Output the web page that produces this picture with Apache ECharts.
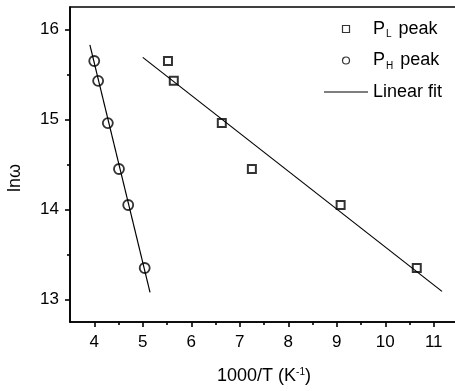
<!DOCTYPE html>
<html><head><meta charset="utf-8">
<script src="https://cdn.jsdelivr.net/npm/echarts@6/dist/echarts.min.js"></script>
<style>html,body{margin:0;padding:0;background:#fff}#c{width:455px;height:391px}</style>
</head><body><div id="c"></div>
<script>
// Data
const plX = [5.52, 5.64, 6.63, 7.25, 9.08, 10.65];
const plY = [15.65, 15.43, 14.96, 14.45, 14.05, 13.35];
const phX = [4.00, 4.08, 4.28, 4.51, 4.70, 5.04];
const phY = [15.65, 15.43, 14.96, 14.45, 14.05, 13.35];
const fitLX = [5.00, 11.17];
const fitLY = [15.69, 13.09];
const fitHX = [3.91, 5.15];
const fitHY = [15.83, 13.08];
const xMajorTicks = [4, 5, 6, 7, 8, 9, 10, 11];
const xMinorTicks = [4.5, 5.5, 6.5, 7.5, 8.5, 9.5, 10.5];
const yMajorTicks = [13, 14, 15, 16];
const yMinorTicks = [13.5, 14.5, 15.5];
const seriesNames = ['PL peak', 'PH peak', 'Linear fit'];

const zip = (a, b) => a.map((v, i) => [v, b[i]]);
const FONT = "'Liberation Sans', Arial, sans-serif";
const axisLineStyle = { color: '#000', width: 1.6 };

const chart = echarts.init(document.getElementById('c'), null, { renderer: 'canvas' });
chart.setOption({
  animation: false,
  backgroundColor: '#fff',
  grid: { left: 70, right: -3, top: 7, bottom: 69, show: true, borderColor: '#000', borderWidth: 1.6, containLabel: false, outerBoundsMode: 'none' },
  legend: {
    orient: 'vertical', left: 324, top: 19, padding: 0, itemWidth: 44, itemHeight: 7, itemGap: 11,
    data: [
      { name: seriesNames[0], icon: 'path://M0,0L10,0L10,10L0,10Z', itemStyle: { color: '#fff', borderColor: '#000', borderWidth: 1.2 } },
      { name: seriesNames[1], icon: 'circle', itemStyle: { color: '#fff', borderColor: '#000', borderWidth: 1.2 } },
      { name: seriesNames[2], icon: 'path://M0,0L40,0L40,1L0,1Z', itemStyle: { color: '#000', borderWidth: 0 } }
    ],
    formatter: function (name) {
      if (name === 'PL peak') return 'P{sub|L} peak';
      if (name === 'PH peak') return 'P{sub|H} peak';
      return name;
    },
    textStyle: { fontFamily: FONT, fontSize: 18, color: '#000', lineHeight: 20,
      rich: { sub: { fontFamily: FONT, fontSize: 10, color: '#000', padding: [11, 2, 0, 1] } } }
  },
  xAxis: [
    { type: 'value', min: 3.5, max: 11.5, position: 'bottom',
      name: '1000/T (K{sup|-1})', nameLocation: 'middle', nameGap: 45,
      nameTextStyle: { fontFamily: FONT, fontSize: 18, color: '#000',
        rich: { sup: { fontFamily: FONT, fontSize: 10, color: '#000', padding: [0, 0, 9, 0] } } },
      axisLine: { show: true, onZero: false, lineStyle: axisLineStyle },
      axisTick: { show: true, inside: false, length: 5, customValues: xMajorTicks, lineStyle: axisLineStyle },
      axisLabel: { customValues: xMajorTicks, fontFamily: FONT, fontSize: 17, color: '#000', margin: 12 },
      splitLine: { show: false } },
    { type: 'value', min: 3.5, max: 11.5, position: 'bottom',
      axisLine: { show: false, onZero: false },
      axisTick: { show: true, inside: false, length: 3, customValues: xMinorTicks, lineStyle: axisLineStyle },
      axisLabel: { show: false }, splitLine: { show: false } }
  ],
  yAxis: [
    { type: 'value', min: 12.75, max: 16.25, position: 'left',
      name: 'lnω', nameLocation: 'middle', nameGap: 46, nameRotate: 90,
      nameTextStyle: { fontFamily: FONT, fontSize: 18, color: '#000', padding: [0, 27, 0, 0] },
      axisLine: { show: true, onZero: false, lineStyle: axisLineStyle },
      axisTick: { show: true, inside: false, length: 5, customValues: yMajorTicks, lineStyle: axisLineStyle },
      axisLabel: { customValues: yMajorTicks, fontFamily: FONT, fontSize: 17, color: '#000', margin: 11 },
      splitLine: { show: false } },
    { type: 'value', min: 12.75, max: 16.25, position: 'left',
      axisLine: { show: false, onZero: false },
      axisTick: { show: true, inside: false, length: 3, customValues: yMinorTicks, lineStyle: axisLineStyle },
      axisLabel: { show: false }, splitLine: { show: false } }
  ],
  series: [
    { name: seriesNames[2], type: 'line', data: zip(fitHX, fitHY), symbol: 'none', showSymbol: false,
      lineStyle: { color: '#000', width: 1.2 }, itemStyle: { color: '#000' }, z: 2 },
    { name: seriesNames[2], type: 'line', data: zip(fitLX, fitLY), symbol: 'none', showSymbol: false,
      lineStyle: { color: '#000', width: 1.2 }, itemStyle: { color: '#000' }, z: 2 },
    { name: seriesNames[0], type: 'scatter', data: zip(plX, plY), symbol: 'rect', symbolSize: 8,
      itemStyle: { color: 'rgba(255,255,255,0)', borderColor: '#000', borderWidth: 2 }, z: 3 },
    { name: seriesNames[1], type: 'scatter', data: zip(phX, phY), symbol: 'circle', symbolSize: 10,
      itemStyle: { color: 'rgba(255,255,255,0)', borderColor: '#000', borderWidth: 1.8 }, z: 3 }
  ]
});
</script></body></html>
